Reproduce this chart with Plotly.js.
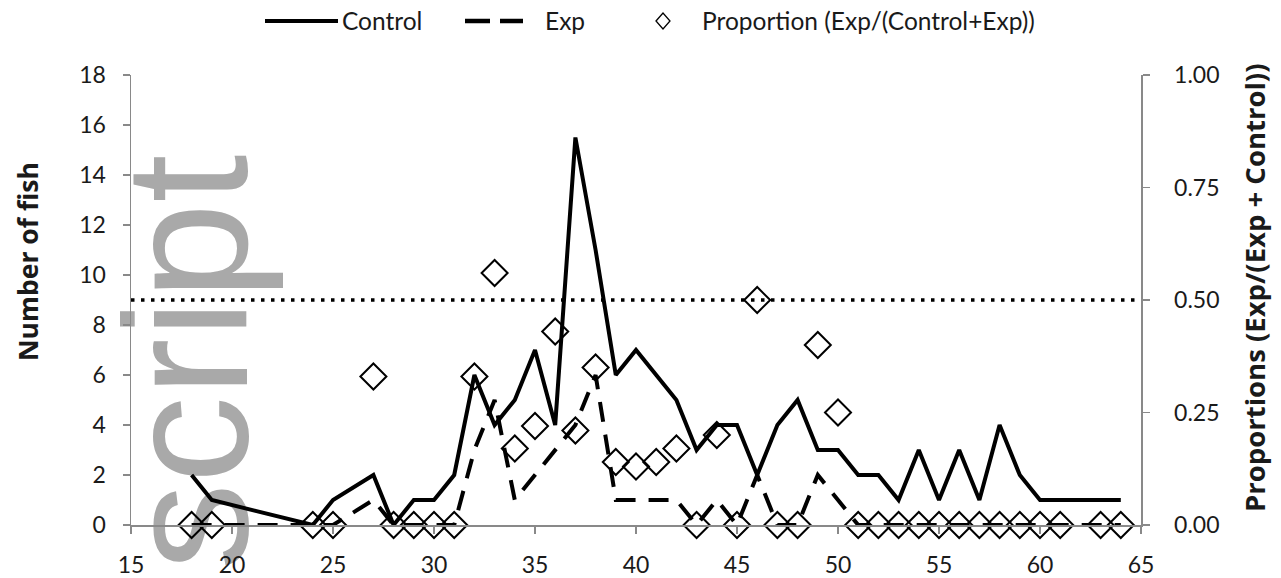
<!DOCTYPE html>
<html><head><meta charset="utf-8">
<script src="https://cdn.plot.ly/plotly-3.0.1.min.js"></script>
<style>html,body{margin:0;padding:0;background:#fff;} #chart{width:1281px;height:578px;}</style>
</head><body><div id="chart"></div>
<script>
// ---- data ----
const lengths    = [18,19,24,25,27,28,29,30,31,32,33,34,35,36,37,38,39,40,41,42,43,44,45,46,47,48,49,50,51,52,53,54,55,56,57,58,59,60,61,63,64];
const control    = [2, 1, 0, 1, 2, 0, 1, 1, 2, 6, 4, 5, 7, 4, 15.5,11,6, 7, 6, 5, 3, 4, 4, 2, 4, 5, 3, 3, 2, 2, 1, 3, 1, 3, 1, 4, 2, 1, 1, 1, 1];
const expCounts  = [0, 0, 0, 0, 1, 0, 0, 0, 0, 3, 5, 1, 2, 3, 4, 6, 1, 1, 1, 1, 0, 1, 0, 2, 0, 0, 2, 1, 0, 0, 0, 0, 0, 0, 0, 0, 0, 0, 0, 0, 0];
const proportion = [0, 0, 0, 0, 0.33,0,0, 0, 0, 0.33,0.56,0.17,0.22,0.43,0.21,0.35,0.14,0.13,0.14,0.17,0,0.2,0,0.5,0,0,0.4,0.25,0,0,0,0,0,0,0,0,0,0,0,0,0];
const refX = [15, 65];
const refY = [0.5, 0.5];
const xTicks = [15,20,25,30,35,40,45,50,55,60,65];
const leftTicks = [0,2,4,6,8,10,12,14,16,18];
const rightTicks = [0,0.25,0.5,0.75,1];
const rightTickLabels = ['0.00','0.25','0.50','0.75','1.00'];
const legendLabels = ['Control','Exp','Proportion (Exp/(Control+Exp))'];
const leftTitle = 'Number of fish';
const rightTitle = 'Proportions (Exp/(Exp + Control))';
const watermark = 'Manuscript';

// ---- pixel helpers for paper-positioned decorations ----
const L = 131, R = 1141, T = 75, B = 525;
const px = x => (x - L) / (R - L);
const py = y => (B - y) / (B - T);

const tickFont = {family: 'Lato, sans-serif', size: 23, color: '#1a1a1a'};
const legendFont = {family: 'Lato, sans-serif', size: 24.5, color: '#1a1a1a'};
const axisGray = '#898989';

const traces = [
  {x: lengths, y: control, type: 'scatter', mode: 'lines', name: legendLabels[0],
   line: {color: '#000', width: 4}, showlegend: false, hoverinfo: 'skip'},
  {x: lengths, y: expCounts, type: 'scatter', mode: 'lines', name: legendLabels[1],
   line: {color: '#000', width: 4, dash: '20px,13px'}, showlegend: false, hoverinfo: 'skip'},
  {x: refX, y: refY, yaxis: 'y2', type: 'scatter', mode: 'lines',
   line: {color: '#000', width: 3.5, dash: '3.5px,6.5px'}, showlegend: false, hoverinfo: 'skip'},
  {x: lengths, y: proportion, yaxis: 'y2', type: 'scatter', mode: 'markers', name: legendLabels[2],
   marker: {symbol: 'diamond-open', size: 20, color: '#000', line: {width: 2, color: '#000'}},
   showlegend: false, hoverinfo: 'skip', cliponaxis: false}
];

const axisCommon = {
  showline: true, linecolor: axisGray, linewidth: 1.5,
  ticks: 'outside', ticklen: 7, tickwidth: 1.5, tickcolor: axisGray,
  showgrid: false, zeroline: false, tickfont: tickFont, fixedrange: true
};

const layout = {
  width: 1281, height: 578,
  margin: {l: L, r: 1281 - R, t: T, b: 578 - B, pad: 0},
  paper_bgcolor: '#fff', plot_bgcolor: 'rgba(0,0,0,0)',
  showlegend: false,
  xaxis: Object.assign({}, axisCommon, {range: [15, 65], tickvals: xTicks, ticklabelstandoff: 12}),
  yaxis: Object.assign({}, axisCommon, {range: [0, 18], tickvals: leftTicks, ticklabelstandoff: 12}),
  yaxis2: Object.assign({}, axisCommon, {range: [0, 1], tickvals: rightTicks, ticktext: rightTickLabels,
    overlaying: 'y', side: 'right', ticklabelstandoff: 20}),
  shapes: [
    // watermark (behind the data)
    {type: 'rect', xref: 'paper', yref: 'paper', layer: 'below',
     x0: px(160), x1: px(180), y0: py(590), y1: py(570),
     fillcolor: 'rgba(0,0,0,0)', line: {width: 0},
     label: {text: watermark, textangle: -90, textposition: 'middle center',
             font: {family: 'Liberation Sans, Arial, sans-serif', size: 174, color: '#a9a9a9'}}},
    // legend keys
    {type: 'line', xref: 'paper', yref: 'paper', x0: px(265), x1: px(338), y0: py(21), y1: py(21),
     line: {color: '#000', width: 4}},
    {type: 'line', xref: 'paper', yref: 'paper', x0: px(465), x1: px(523), y0: py(21), y1: py(21),
     line: {color: '#000', width: 4.5, dash: '25px,10px'}},
    {type: 'path', xref: 'paper', yref: 'paper',
     path: 'M ' + px(656) + ' ' + py(21) + ' L ' + px(663) + ' ' + py(13) + ' L ' + px(670) + ' ' + py(21) +
           ' L ' + px(663) + ' ' + py(29) + ' Z',
     line: {color: '#000', width: 1.3}, fillcolor: 'rgba(0,0,0,0)'}
  ],
  annotations: [
    {text: legendLabels[0], xref: 'paper', yref: 'paper', x: px(340), y: py(21), xanchor: 'left', yanchor: 'middle',
     showarrow: false, font: legendFont},
    {text: legendLabels[1], xref: 'paper', yref: 'paper', x: px(543), y: py(21), xanchor: 'left', yanchor: 'middle',
     showarrow: false, font: legendFont},
    {text: legendLabels[2], xref: 'paper', yref: 'paper', x: px(700), y: py(21), xanchor: 'left', yanchor: 'middle',
     showarrow: false, font: legendFont},
    {text: '<b>' + leftTitle + '</b>', xref: 'paper', yref: 'paper', x: px(28), y: py(262),
     xanchor: 'center', yanchor: 'middle', textangle: -90, showarrow: false,
     font: {family: 'Open Sans, sans-serif', size: 26.5, color: '#1a1a1a'}},
    {text: '<b>' + rightTitle + '</b>', xref: 'paper', yref: 'paper', x: px(1254), y: py(288),
     xanchor: 'center', yanchor: 'middle', textangle: -90, showarrow: false,
     font: {family: 'Open Sans, sans-serif', size: 27.5, color: '#1a1a1a'}}
  ]
};

Plotly.newPlot('chart', traces, layout, {displayModeBar: false, staticPlot: true});
</script>
</body></html>
